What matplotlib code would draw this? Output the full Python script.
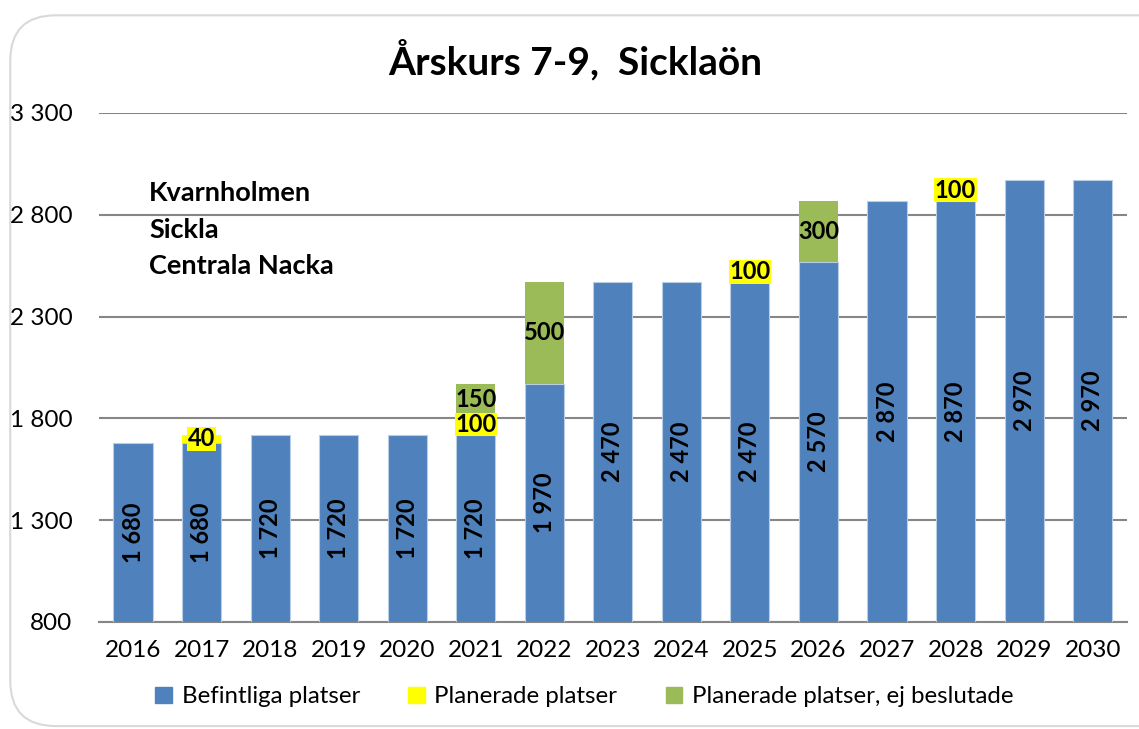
import matplotlib.pyplot as plt
from matplotlib.patches import FancyBboxPatch, Patch
from matplotlib.ticker import FuncFormatter
import numpy as np

years = ['2016', '2017', '2018', '2019', '2020', '2021', '2022', '2023',
         '2024', '2025', '2026', '2027', '2028', '2029', '2030']
befintliga = [1680, 1680, 1720, 1720, 1720, 1720, 1970, 2470,
              2470, 2470, 2570, 2870, 2870, 2970, 2970]
planerade = [0, 40, 0, 0, 0, 100, 0, 0, 0, 100, 0, 0, 100, 0, 0]
ej_beslutade = [0, 0, 0, 0, 0, 150, 500, 0, 0, 0, 300, 0, 0, 0, 0]
areas = ['Kvarnholmen', 'Sickla', 'Centrala Nacka']

BLUE = '#4F81BD'
YELLOW = '#FFFF00'
GREEN = '#9BBB59'
GRID = '#868686'
BASE = 800

plt.rcParams['font.family'] = ['Lato', 'DejaVu Sans']

fig = plt.figure(figsize=(11.39, 7.29), dpi=100)
border = FancyBboxPatch((0.009, 0.004), 1.2, 0.975, boxstyle='round,pad=0,rounding_size=0.04',
                        transform=fig.transFigure, facecolor='none', edgecolor='#D9D9D9',
                        linewidth=1.5, mutation_aspect=1139 / 729, zorder=-1)
fig.patches.append(border)

ax = fig.add_axes([0.0867, 0.1468, 0.9027, 0.6982])
ax.patch.set_alpha(0)
x = np.arange(len(years))
b = np.array(befintliga)
p = np.array(planerade)
g = np.array(ej_beslutade)
w = 0.57

ax.bar(x, b - BASE, bottom=BASE, width=w, color=BLUE, edgecolor='#B9CDE5', linewidth=0.8, zorder=3)
ax.bar(x, p, bottom=b, width=w, color=YELLOW, linewidth=0, zorder=3)
ax.bar(x, g, bottom=b + p, width=w, color=GREEN, linewidth=0, zorder=3)

for i in range(len(years)):
    ax.text(x[i], (BASE + b[i]) / 2, f'{b[i]:,}'.replace(',', ' '), rotation=90,
            ha='center', va='center', fontsize=17, fontweight='bold', zorder=4)
    if p[i]:
        ax.text(x[i], b[i] + p[i] / 2, str(p[i]), ha='center', va='center', fontsize=17,
                fontweight='bold', zorder=4,
                bbox=dict(facecolor=YELLOW, edgecolor='none', pad=0.3))
    if g[i]:
        ax.text(x[i], b[i] + p[i] + g[i] / 2, str(g[i]), ha='center', va='center',
                fontsize=17, fontweight='bold', zorder=4)

ax.set_xlim(-0.5, len(years) - 0.5)
ax.set_ylim(800, 3300)
ax.set_yticks(np.arange(800, 3301, 500))
ax.yaxis.set_major_formatter(FuncFormatter(lambda v, _: f'{int(v):,}'.replace(',', ' ')))
ax.set_xticks(x)
ax.set_xticklabels(years)
ax.tick_params(axis='y', length=0, pad=19, labelsize=17.5)
ax.tick_params(axis='x', length=0, pad=13, labelsize=17.5)
ax.grid(axis='y', color=GRID, linewidth=1.5, zorder=0)
for s in ['top', 'right', 'left']:
    ax.spines[s].set_visible(False)
ax.spines['bottom'].set_color(GRID)
ax.spines['bottom'].set_linewidth(1.5)

fig.text(0.505, 0.918, 'Årskurs 7-9,  Sicklaön', ha='center', va='center',
         fontsize=28, fontweight='bold')

for j, name in enumerate(areas):
    fig.text(0.131, 0.735 - j * 0.05, name, ha='left', va='center', fontsize=19.5, fontweight='bold')

handles = [Patch(color=BLUE), Patch(color=YELLOW), Patch(color=GREEN)]
fig.legend(handles, ['Befintliga platser', 'Planerade platser', 'Planerade platser, ej beslutade'],
           loc='center', bbox_to_anchor=(0.513, 0.044), ncol=3, frameon=False, fontsize=17.3,
           handlelength=0.7, handleheight=0.7, handletextpad=0.4, columnspacing=2.0)

fig.savefig('out.png', dpi=100)
